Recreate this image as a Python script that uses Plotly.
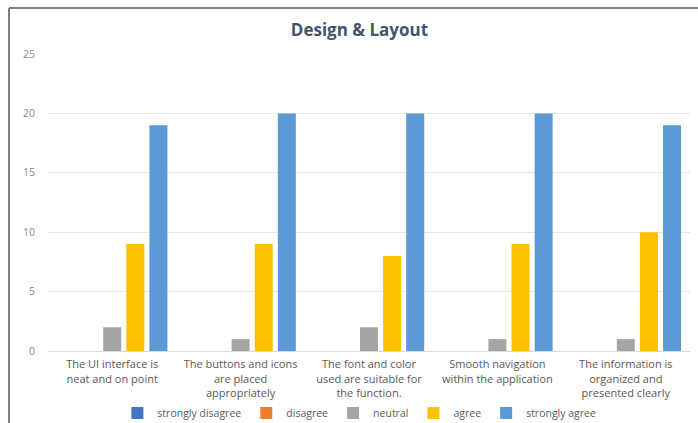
import plotly.graph_objects as go

categories = [
    "The UI interface is<br>neat and on point",
    "The buttons and icons<br>are placed<br>appropriately",
    "The font and color<br>used are suitable for<br>the function.",
    "Smooth navigation<br>within the application",
    "The information is<br>organized and<br>presented clearly",
]
series_names = ["strongly disagree", "disagree", "neutral", "agree", "strongly agree"]
strongly_disagree = [0, 0, 0, 0, 0]
disagree = [0, 0, 0, 0, 0]
neutral = [2, 1, 2, 1, 1]
agree = [9, 9, 8, 9, 10]
strongly_agree = [19, 20, 20, 20, 19]
y_ticks = [0, 5, 10, 15, 20, 25]

values = [strongly_disagree, disagree, neutral, agree, strongly_agree]
colors = ["#4472C4", "#ED7D31", "#A5A5A5", "#FFC000", "#5B9BD5"]

W, H = 698, 423
ML, MR, MT, MB = 48, 8, 54, 72
pw, ph = W - ML - MR, H - MT - MB

fig = go.Figure()
for name, vals, col in zip(series_names, values, colors):
    fig.add_trace(go.Bar(name=name, x=categories, y=vals, marker=dict(color=col, line=dict(width=0))))

def px2x(px):
    return (px - ML) / pw

def py2y(py):
    return (H - MB - py) / ph

frame = dict(color="#808080", width=2)
fig.add_shape(type="line", xref="paper", yref="paper", x0=px2x(9), x1=px2x(W), y0=py2y(8), y1=py2y(8), line=frame)
fig.add_shape(type="line", xref="paper", yref="paper", x0=px2x(9), x1=px2x(9), y0=py2y(8), y1=py2y(H), line=frame)

fig.update_layout(
    width=W, height=H,
    margin=dict(l=ML, r=MR, t=MT, b=MB, autoexpand=False),
    paper_bgcolor="white", plot_bgcolor="white",
    barmode="group", bargap=0.1, bargroupgap=0.22,
    title=dict(text="<b>Design &amp; Layout</b>", x=0.515, xanchor="center", y=1 - 30 / H, yanchor="middle",
               font=dict(family="Open Sans", size=17, color="#44546A")),
    font=dict(family="Open Sans", color="#595959"),
    showlegend=True,
    legend=dict(orientation="h", x=0.485, xanchor="center", y=py2y(413), yanchor="middle",
                bgcolor="rgba(0,0,0,0)",
                font=dict(size=10.5, color="#595959"), itemwidth=30, tracegroupgap=0),
    yaxis=dict(range=[0, 25], tickvals=y_ticks, showgrid=True, gridcolor="#E6E6E6", gridwidth=1,
               zeroline=False, showline=False, tickfont=dict(size=10.5, color="#8C8C8C"),
               ticklabelstandoff=12, automargin=False),
    xaxis=dict(showline=True, linecolor="#D9D9D9", linewidth=1, tickfont=dict(size=11, color="#595959"),
               ticks="", ticklabelstandoff=3, automargin=False),
)

fig.write_html("out.html")
